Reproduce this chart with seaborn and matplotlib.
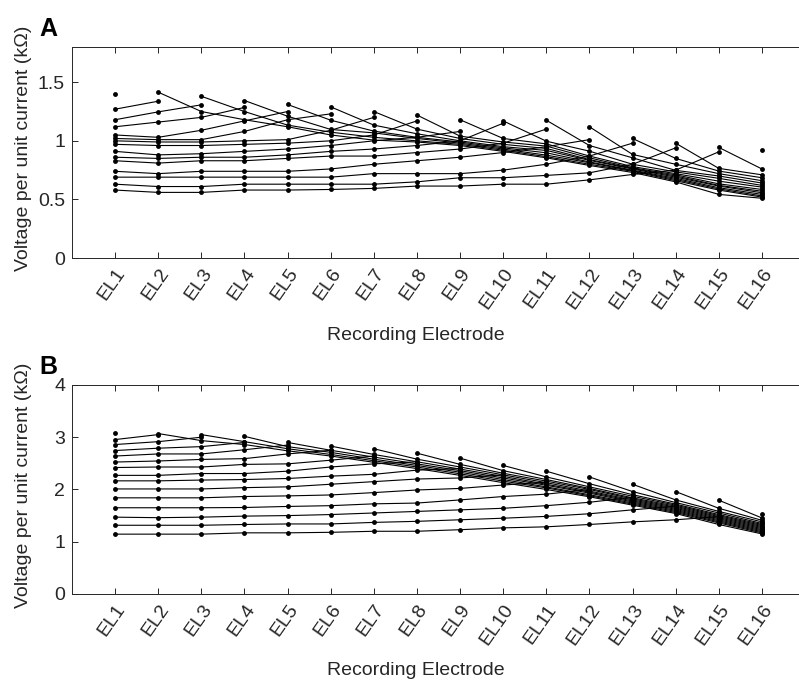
import numpy as np
import pandas as pd
import seaborn as sns
import matplotlib.pyplot as plt

nan = np.nan

# Recording electrodes (x axis)
electrodes = [1, 2, 3, 4, 5, 6, 7, 8, 9, 10, 11, 12, 13, 14, 15, 16]
electrode_labels = ["EL1", "EL2", "EL3", "EL4", "EL5", "EL6", "EL7", "EL8",
                    "EL9", "EL10", "EL11", "EL12", "EL13", "EL14", "EL15", "EL16"]

# Panel A: one row per stimulating electrode, NaN at the stimulated electrode
volt_a = [
    [nan, 1.415, 1.25, 1.18, 1.12, 1.05, 1.006, 0.99, 0.96, 0.91, 0.855, 0.79, 0.73, 0.65, 0.543, 0.51],
    [1.40, nan, 1.38, 1.25, 1.134, 1.074, 1.03, 1.00, 0.97, 0.92, 0.865, 0.80, 0.74, 0.66, 0.58, 0.52],
    [1.27, 1.338, nan, 1.344, 1.21, 1.097, 1.068, 1.02, 0.98, 0.93, 0.878, 0.813, 0.745, 0.67, 0.59, 0.53],
    [1.18, 1.247, 1.307, nan, 1.31, 1.176, 1.083, 1.03, 0.99, 0.94, 0.898, 0.82, 0.75, 0.68, 0.60, 0.543],
    [1.12, 1.16, 1.20, 1.285, nan, 1.29, 1.134, 1.06, 1.00, 0.95, 0.918, 0.833, 0.76, 0.69, 0.614, 0.557],
    [1.05, 1.03, 1.09, 1.17, 1.25, nan, 1.25, 1.10, 1.02, 0.97, 0.935, 0.84, 0.765, 0.70, 0.62, 0.57],
    [1.02, 1.01, 1.01, 1.08, 1.18, 1.23, nan, 1.22, 1.04, 0.99, 0.955, 0.855, 0.77, 0.71, 0.633, 0.585],
    [1.00, 0.99, 0.99, 1.00, 1.01, 1.09, 1.20, nan, 1.18, 1.02, 0.974, 0.87, 0.78, 0.72, 0.656, 0.605],
    [0.97, 0.96, 0.96, 0.97, 0.98, 1.00, 1.05, 1.17, nan, 1.17, 0.997, 0.912, 0.80, 0.735, 0.68, 0.62],
    [0.91, 0.88, 0.89, 0.91, 0.93, 0.96, 1.00, 1.03, 1.08, nan, 1.176, 0.96, 0.855, 0.748, 0.70, 0.64],
    [0.86, 0.85, 0.86, 0.86, 0.88, 0.91, 0.93, 0.96, 1.00, 1.15, nan, 1.12, 0.884, 0.80, 0.72, 0.66],
    [0.83, 0.81, 0.83, 0.83, 0.85, 0.87, 0.87, 0.90, 0.93, 0.98, 1.10, nan, 1.02, 0.85, 0.742, 0.685],
    [0.74, 0.72, 0.74, 0.74, 0.74, 0.76, 0.80, 0.83, 0.86, 0.90, 0.95, 1.01, nan, 0.98, 0.765, 0.71],
    [0.69, 0.69, 0.69, 0.69, 0.69, 0.69, 0.72, 0.72, 0.72, 0.75, 0.80, 0.87, 0.98, nan, 0.944, 0.76],
    [0.63, 0.61, 0.61, 0.63, 0.63, 0.63, 0.63, 0.65, 0.685, 0.685, 0.705, 0.727, 0.80, 0.94, nan, 0.92],
    [0.58, 0.56, 0.56, 0.58, 0.58, 0.585, 0.594, 0.614, 0.614, 0.63, 0.63, 0.667, 0.713, 0.75, 0.906, nan],
]

# Panel B
volt_b = [
    [nan, 3.07, 2.935, 2.86, 2.74, 2.64, 2.52, 2.40, 2.27, 2.13, 2.00, 1.86, 1.70, 1.54, 1.33, 1.15],
    [3.08, nan, 3.05, 2.915, 2.78, 2.67, 2.55, 2.43, 2.30, 2.16, 2.03, 1.88, 1.72, 1.56, 1.36, 1.17],
    [2.955, 3.05, nan, 3.017, 2.82, 2.71, 2.58, 2.46, 2.33, 2.19, 2.05, 1.90, 1.74, 1.58, 1.38, 1.19],
    [2.86, 2.915, 3.0, nan, 2.90, 2.75, 2.62, 2.49, 2.36, 2.22, 2.08, 1.93, 1.76, 1.60, 1.40, 1.21],
    [2.745, 2.79, 2.82, 2.90, nan, 2.83, 2.67, 2.53, 2.39, 2.25, 2.10, 1.95, 1.78, 1.62, 1.42, 1.23],
    [2.64, 2.68, 2.68, 2.76, 2.85, nan, 2.78, 2.58, 2.43, 2.28, 2.13, 1.97, 1.80, 1.64, 1.44, 1.25],
    [2.525, 2.545, 2.575, 2.59, 2.68, 2.75, nan, 2.695, 2.48, 2.31, 2.16, 2.00, 1.82, 1.66, 1.46, 1.27],
    [2.42, 2.43, 2.43, 2.48, 2.49, 2.56, 2.64, nan, 2.60, 2.36, 2.19, 2.02, 1.84, 1.68, 1.48, 1.29],
    [2.27, 2.27, 2.305, 2.305, 2.35, 2.43, 2.49, 2.53, nan, 2.46, 2.24, 2.05, 1.87, 1.70, 1.50, 1.31],
    [2.165, 2.165, 2.18, 2.19, 2.21, 2.255, 2.29, 2.37, 2.40, nan, 2.35, 2.11, 1.90, 1.72, 1.52, 1.33],
    [2.01, 2.01, 2.01, 2.035, 2.05, 2.10, 2.15, 2.20, 2.22, 2.28, nan, 2.24, 1.96, 1.75, 1.55, 1.35],
    [1.84, 1.84, 1.84, 1.865, 1.877, 1.895, 1.94, 1.99, 2.02, 2.085, 2.14, nan, 2.10, 1.80, 1.58, 1.38],
    [1.65, 1.65, 1.65, 1.655, 1.675, 1.69, 1.725, 1.74, 1.80, 1.865, 1.91, 2.00, nan, 1.96, 1.64, 1.41],
    [1.47, 1.46, 1.47, 1.49, 1.50, 1.52, 1.55, 1.58, 1.61, 1.64, 1.69, 1.755, 1.85, nan, 1.795, 1.455],
    [1.315, 1.315, 1.315, 1.33, 1.34, 1.34, 1.37, 1.39, 1.42, 1.45, 1.485, 1.535, 1.61, 1.68, nan, 1.535],
    [1.145, 1.145, 1.145, 1.17, 1.17, 1.18, 1.20, 1.20, 1.23, 1.265, 1.285, 1.33, 1.38, 1.42, 1.48, nan],
]


def to_long(rows):
    # split every line at its NaN so the gap stays unconnected
    recs = []
    for k, row in enumerate(rows, start=1):
        seg = 0
        for j, v in zip(electrodes, row):
            if np.isnan(v):
                seg += 1
                continue
            recs.append({"stim": k, "seg": f"{k}-{seg}", "electrode": j, "value": v})
    return pd.DataFrame(recs)


sns.set_theme(style="ticks")
plt.rcParams['font.family'] = ['Liberation Sans', 'DejaVu Sans']

axcol = '#262626'
fs = 14
fig = plt.figure(figsize=(7.99, 6.81), dpi=100, facecolor='w')

panels = [
    (volt_a, [0.0901, 0.6211, 0.9174, 0.3098], 1.8, [0, 0.5, 1, 1.5], ["0", "0.5", "1", "1.5"], "A"),
    (volt_b, [0.0901, 0.1278, 0.9174, 0.3069], 4, [0, 1, 2, 3, 4], ["0", "1", "2", "3", "4"], "B"),
]

for rows, pos, ytop, yt, ytl, tag in panels:
    ax = fig.add_axes(pos)
    df = to_long(rows)
    sns.lineplot(data=df, x="electrode", y="value", units="seg", estimator=None,
                 color="black", linewidth=0.8, marker="o", markersize=3.5,
                 markeredgewidth=0, ax=ax, legend=False)
    ax.set_xlim(0, 17)
    ax.set_ylim(0, ytop)
    ax.set_xticks(electrodes)
    ax.set_xticklabels(electrode_labels, rotation=55, ha="right", va="top",
                       rotation_mode="anchor")
    ax.set_yticks(yt)
    ax.set_yticklabels(ytl)
    ax.tick_params(direction="in", top=True, right=True, length=4, width=0.7,
                   colors=axcol, labelsize=fs, pad=5)
    for sp in ax.spines.values():
        sp.set_color(axcol)
        sp.set_linewidth(0.7)
    ax.set_xlabel("Recording Electrode", fontsize=fs, color=axcol)
    ax.xaxis.set_label_coords(0.469, -0.325)
    ax.set_ylabel("Voltage per unit current (k\u03a9)", fontsize=fs, color=axcol)
    ax.yaxis.set_label_coords(-0.054, 0.52)
    ax.text(-0.045, 1.03, tag, transform=ax.transAxes, fontsize=18,
            fontweight="bold", color="black", va="bottom", ha="left")

fig.savefig("out.png", dpi=100, facecolor='w')
